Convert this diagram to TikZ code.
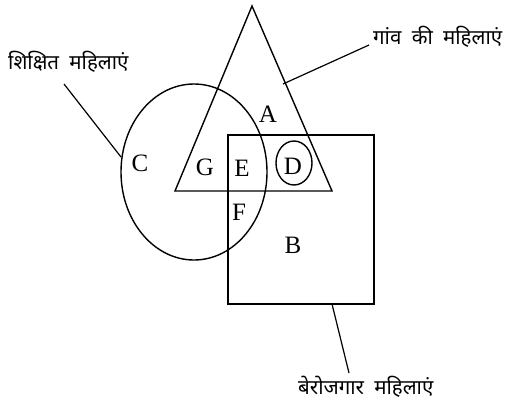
\documentclass[tikz,border=0pt]{standalone}
\usepackage{fontspec}
\setmainfont{Liberation Serif}
\newfontfamily\devfont[Script=Devanagari]{Noto Sans}
\begin{document}
\begin{tikzpicture}[x=1pt,y=-1pt,
  shp/.style={draw=black,line width=1.4pt},
  lead/.style={draw=black,line width=1.2pt},
  let/.style={font=\fontsize{25}{27}\selectfont,inner sep=0pt},
  hin/.style={font=\devfont\fontsize{20.5}{24}\selectfont,inner sep=0pt}]
\useasboundingbox (0,0) rectangle (505,402);
% triangle
\coordinate (t1) at (252,6);
\coordinate (t2) at (175,191);
\coordinate (t3) at (332,191);
\draw[shp,line join=miter] (t1) -- (t2) -- (t3) -- cycle;
% square
\draw[shp] (228,135) rectangle (374,304);
% big ellipse
\draw[shp] (194,172) ellipse [x radius=73, y radius=88];
% small ellipse
\draw[shp] (294,163) ellipse [x radius=18, y radius=22];
% letters
\node[let] (A) at (268,114) {A};
\node[let] (C) at (140,163) {C};
\node[let] (G) at (205,167) {G};
\node[let] (E) at (242,168) {E};
\node[let] (D) at (293,166) {D};
\node[let] (F) at (239,212) {F};
\node[let] (B) at (293,245) {B};
% labels
\node[hin,anchor=west] (gaon) at (373,37) {गांव\hspace{5pt} की\hspace{5pt} महिलाएं};
\node[hin,anchor=west] (shik) at (8,62) {शिक्षित\hspace{5pt} महिलाएं};
\node[hin,anchor=west] (bero) at (298,387) {बेरोजगार\hspace{5pt} महिलाएं};
% leader lines
\coordinate (g1) at (283,84);
\coordinate (g2) at (369,45);
\coordinate (s1) at (64,84);
\coordinate (s2) at (121,157);
\coordinate (b1) at (332,304);
\coordinate (b2) at (349,373);
\draw[lead] (g1) -- (g2);
\draw[lead] (s1) -- (s2);
\draw[lead] (b1) -- (b2);
\end{tikzpicture}
\end{document}
